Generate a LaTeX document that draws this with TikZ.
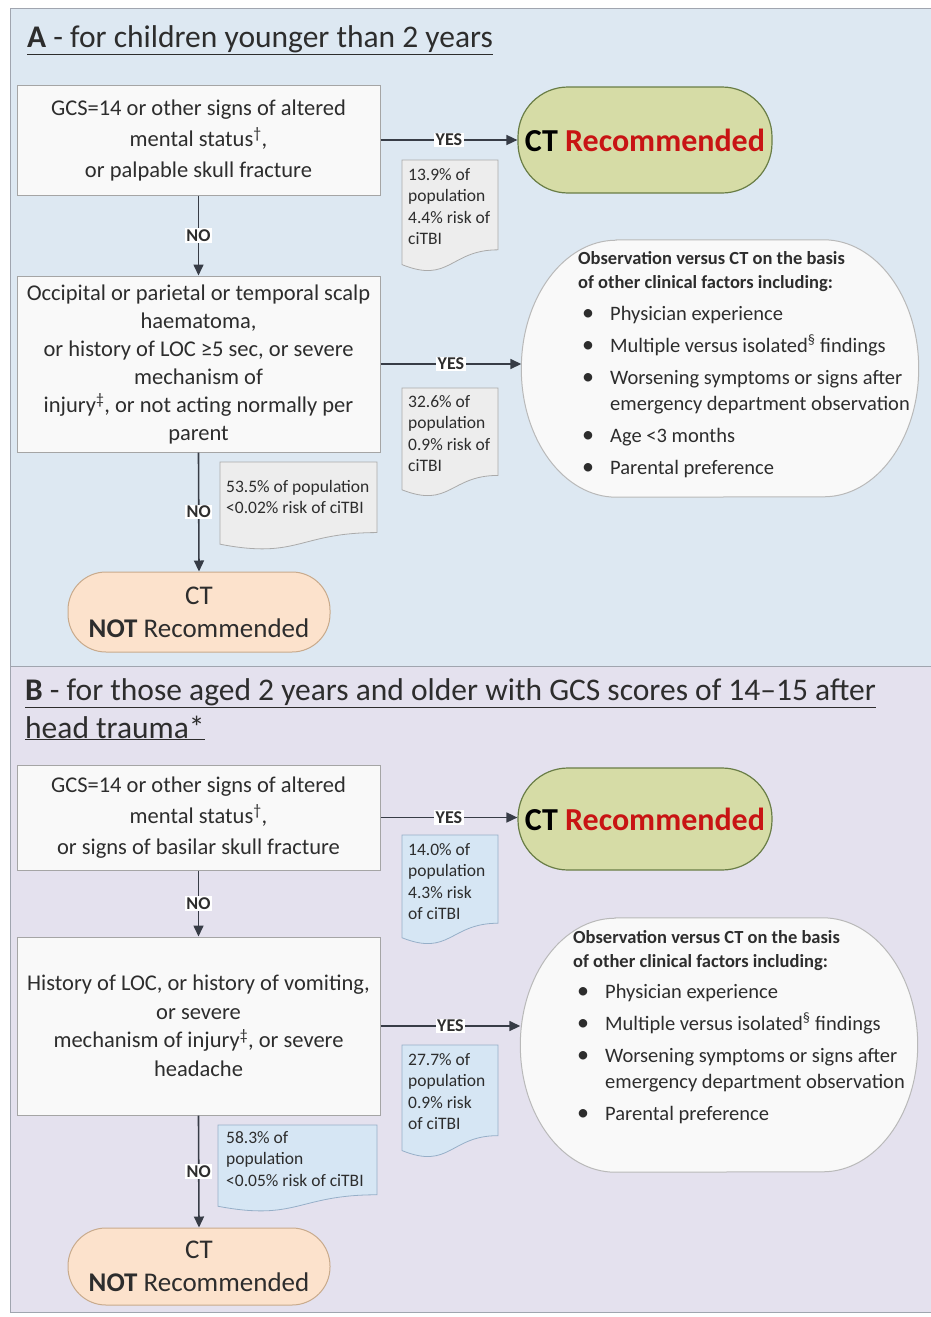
\documentclass[tikz,border=0pt]{standalone}
\usepackage{fontspec}
\setmainfont{Carlito}
\usetikzlibrary{arrows.meta,calc}
\definecolor{bgA}{RGB}{221,232,242}
\definecolor{bgB}{RGB}{228,225,238}
\definecolor{sepgray}{RGB}{160,165,175}
\definecolor{boxfill}{RGB}{249,249,249}
\definecolor{boxdraw}{RGB}{165,165,165}
\definecolor{ctfill}{RGB}{214,220,166}
\definecolor{ctdraw}{RGB}{105,125,70}
\definecolor{ctred}{RGB}{200,20,20}
\definecolor{peach}{RGB}{252,226,204}
\definecolor{peachdraw}{RGB}{200,170,140}
\definecolor{notegray}{RGB}{237,237,237}
\definecolor{notegraydraw}{RGB}{170,170,170}
\definecolor{noteblue}{RGB}{214,230,244}
\definecolor{notebluedraw}{RGB}{150,175,200}
\definecolor{obsfill}{RGB}{249,249,249}
\definecolor{obsdraw}{RGB}{185,185,185}
\definecolor{arrowc}{RGB}{55,60,70}
\definecolor{txt}{RGB}{45,45,45}
\newcommand{\docshape}[5]{%
  \draw[#5] (#1,#2) -- (#3,#2) -- (#3,{#2+0.802*(#4-#2)})
    .. controls ({(#1+#3)/2},{#2+0.802*(#4-#2)}) and ({(#1+#3)/2},{#2+1.107*(#4-#2)})
    .. (#1,{#2+0.934*(#4-#2)}) -- cycle;}
\newcommand{\obsshape}[2]{% node name, style
  \draw[#2] ($(#1.north west)+(95,0)$) -- ($(#1.north east)+(-95,0)$)
    arc[start angle=90,end angle=-90,x radius=95pt,y radius={0.5*\obsh}]
    -- ($(#1.south west)+(95,0)$)
    arc[start angle=270,end angle=90,x radius=95pt,y radius={0.5*\obsh}] -- cycle;}
\tikzset{
  title/.style={anchor=base west,inner sep=0pt,text=txt,font=\fontsize{31.5}{38}\selectfont},
  box/.style={draw=boxdraw,fill=boxfill,line width=1pt,minimum width=363pt,align=center,text=txt,inner sep=2pt},
  ctrec/.style={draw=ctdraw,fill=ctfill,line width=1.2pt,minimum width=254pt,rounded corners=50pt,font=\bfseries\fontsize{32}{34}\selectfont},
  ctnot/.style={draw=peachdraw,fill=peach,line width=1pt,minimum width=262pt,rounded corners=38pt,align=center,text=txt,font=\fontsize{27}{33}\selectfont},
  obsarea/.style={inner sep=0pt,minimum width=397pt},
  obsline/.style={draw=obsdraw,fill=obsfill,line width=1pt},
  obstext/.style={anchor=north west,inner sep=0pt,align=left,text=txt,font=\fontsize{20.5}{26}\selectfont},
  notetext/.style={anchor=north west,inner sep=0pt,align=left,text=txt,font=\fontsize{17.5}{21.5}\selectfont},
  arr/.style={draw=arrowc,line width=1.6pt,-{Triangle[length=11pt,width=10pt]}},
  lab/.style={fill=white,inner sep=1.5pt,text=txt,font=\bfseries\fontsize{18}{18}\selectfont}
}
\newcommand{\bul}{\makebox[32pt][l]{\hspace*{4pt}\fontsize{24}{26}\selectfont•}}
\newcommand{\obshead}[1]{{\bfseries\fontsize{18.5}{25}\selectfont #1}}
\newlength{\obsh}
\begin{document}
\begin{tikzpicture}[x=1pt,y=-1pt]
\useasboundingbox (0,0) rectangle (931,1317);
% section backgrounds
\fill[white] (0,0) rectangle (931,1317);
\draw[fill=bgA,draw=sepgray,line width=0.8pt] (10,8) rectangle (931,666);
\draw[fill=bgB,draw=sepgray,line width=0.8pt] (10,666) rectangle (931,1312);

% ---------------- Section A ----------------
\node[title] (tA) at (27,47) {\underline{\textbf{A} - for children younger than 2 years}};

\node[box,minimum height=110pt,font=\fontsize{22.5}{31}\selectfont] (a1) at (198.5,140)
  {GCS=14 or other signs of altered\\mental status\textsuperscript{†},\\or palpable skull fracture};
\node[box,minimum height=176pt,font=\fontsize{22.5}{28}\selectfont] (a2) at (198.5,364)
  {Occipital or parietal or temporal scalp\\haematoma,\\or history of LOC ≥5 sec, or severe\\mechanism of\\injury\textsuperscript{‡}, or not acting normally per\\parent};
\node[ctrec,minimum height=106pt] (ctA) at (645,140) {CT \textcolor{ctred}{Recommended}};
\node[ctnot,minimum height=80pt] (notA) at (199,612) {CT\\\textbf{NOT} Recommended};

\setlength{\obsh}{257pt}
\node[obsarea,minimum height=257pt] (obsA) at (720,368.5) {};
\obsshape{obsA}{obsline}
\node[obstext] (obsAt) at (578,251) {\obshead{Observation versus CT on the basis}\\[-2pt]
  \obshead{of other clinical factors including:}\\[6pt]
  \bul Physician experience\\[6pt]
  \bul Multiple versus isolated\textsuperscript{§} findings\\[6pt]
  \bul Worsening symptoms or signs after\\
  \hspace*{32pt}emergency department observation\\[6pt]
  \bul Age <3 months\\[6pt]
  \bul Parental preference};

\docshape{402}{160}{498}{272}{draw=notegraydraw,fill=notegray,line width=0.8pt}
\node[notetext] (nA1) at (408,168) {13.9\% of\\population\\4.4\% risk of\\ciTBI};
\docshape{402}{388}{498}{497}{draw=notegraydraw,fill=notegray,line width=0.8pt}
\node[notetext] (nA2) at (408,395) {32.6\% of\\population\\0.9\% risk of\\ciTBI};
\docshape{220}{462}{377}{550}{draw=notegraydraw,fill=notegray,line width=0.8pt}
\node[notetext] (nA3) at (226,480) {53.5\% of population\\<0.02\% risk of ciTBI};

\draw[arr] (a1.east) -- node[lab] (yA1) {YES} (ctA.west);
\draw[arr] (a2.east) -- node[lab] (yA2) {YES} (a2.east -| obsA.west);
\draw[arr] (a1.south) -- node[lab] (nA1l) {NO} (a2.north);
\draw[arr] (a2.south) -- node[lab] (nA2l) {NO} (notA.north);

% ---------------- Section B ----------------
\node[title] (tB1) at (25,700) {\underline{\textbf{B} - for those aged 2 years and older with GCS scores of 14–15 after}};
\node[title] (tB2) at (25,738) {\underline{head trauma*}};

\node[box,minimum height=105pt,font=\fontsize{22.5}{31}\selectfont] (b1) at (198.5,817.5)
  {GCS=14 or other signs of altered\\mental status\textsuperscript{†},\\or signs of basilar skull fracture};
\node[box,minimum height=178pt,font=\fontsize{22.5}{28.5}\selectfont] (b2) at (198.5,1026)
  {History of LOC, or history of vomiting,\\or severe\\mechanism of injury\textsuperscript{‡}, or severe\\headache};
\node[ctrec,minimum height=102pt] (ctB) at (645,819) {CT \textcolor{ctred}{Recommended}};
\node[ctnot,minimum height=77pt] (notB) at (199,1266.5) {CT\\\textbf{NOT} Recommended};

\setlength{\obsh}{254pt}
\node[obsarea,minimum height=254pt] (obsB) at (719,1045) {};
\obsshape{obsB}{obsline}
\node[obstext] (obsBt) at (573,930) {\obshead{Observation versus CT on the basis}\\[-2pt]
  \obshead{of other clinical factors including:}\\[5pt]
  \bul Physician experience\\[6pt]
  \bul Multiple versus isolated\textsuperscript{§} findings\\[6pt]
  \bul Worsening symptoms or signs after\\
  \hspace*{32pt}emergency department observation\\[6pt]
  \bul Parental preference};

\docshape{402}{835}{498}{945}{draw=notebluedraw,fill=noteblue,line width=0.8pt}
\node[notetext] (nB1) at (408,843) {14.0\% of\\population\\4.3\% risk\\of ciTBI};
\docshape{402}{1045}{498}{1158}{draw=notebluedraw,fill=noteblue,line width=0.8pt}
\node[notetext] (nB2) at (408,1053) {27.7\% of\\population\\0.9\% risk\\of ciTBI};
\docshape{218}{1125}{377}{1212}{draw=notebluedraw,fill=noteblue,line width=0.8pt}
\node[notetext] (nB3) at (226,1131) {58.3\% of\\population\\<0.05\% risk of ciTBI};

\draw[arr] (b1.east) -- node[lab] (yB1) {YES} (b1.east -| ctB.west);
\draw[arr] (b2.east) -- node[lab] (yB2) {YES} (b2.east -| obsB.west);
\draw[arr] (b1.south) -- node[lab] (nB1l) {NO} (b2.north);
\draw[arr] (b2.south) -- node[lab] (nB2l) {NO} (notB.north);
\end{tikzpicture}
\end{document}
